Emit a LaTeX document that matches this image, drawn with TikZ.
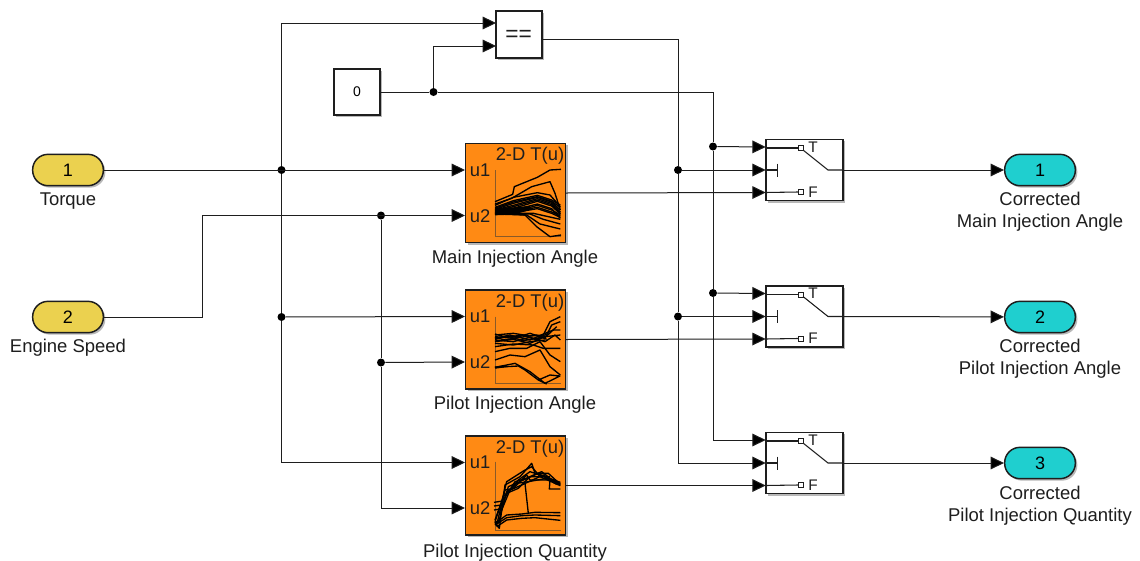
\documentclass[tikz,border=0pt]{standalone}
\usepackage{fontspec}
\setmainfont{Liberation Sans}
\usetikzlibrary{arrows.meta,shadows,calc}
\definecolor{inyellow}{HTML}{EBD14F}
\definecolor{outcyan}{HTML}{1FCFCF}
\definecolor{lutorange}{HTML}{FF8A14}
\definecolor{ink}{HTML}{1E1E1E}
\definecolor{axisbrown}{HTML}{8A5A28}
\tikzset{
  softshadow/.style={drop shadow={shadow xshift=1.5pt,shadow yshift=-1.5pt,opacity=.28,fill=black}},
  block/.style={draw=ink,line width=1.1pt,fill=white,inner sep=0pt,softshadow},
  inport/.style={block,fill=inyellow,minimum width=53pt,minimum height=23.5pt,rounded corners=11.5pt,font=\fontsize{13.5pt}{15pt}\selectfont},
  outport/.style={block,fill=outcyan,minimum width=53pt,minimum height=23.5pt,rounded corners=11.5pt,font=\fontsize{13.5pt}{15pt}\selectfont},
  lut/.style={block,fill=lutorange,minimum width=75pt,minimum height=74.5pt},
  swbox/.style={block,minimum width=57.5pt,minimum height=46pt},
  cmpbox/.style={block,minimum width=34.5pt,minimum height=35pt},
  lab/.style={text=ink,align=center,inner sep=0pt,font=\fontsize{13.85pt}{16.4pt}\selectfont},
  lutlab/.style={text=ink,inner sep=0pt,font=\fontsize{13.8pt}{15pt}\selectfont},
  swlab/.style={text=ink,inner sep=0pt,font=\fontsize{11.5pt}{13pt}\selectfont},
  wire/.style={draw=ink,line width=.75pt},
  sig/.style={wire,-{Triangle[length=10pt,width=9.5pt,fill=black]}},
  dotn/.style={circle,fill=black,inner sep=0pt,minimum size=6pt},
  curve/.style={draw=black,line width=1pt,line join=round},
  axisl/.style={draw=axisbrown,line width=.6pt},
  inner/.style={draw=ink,line width=.8pt}
}
\begin{document}
\begin{tikzpicture}[x=0.75pt,y=-0.75pt]
\useasboundingbox (0,0) rectangle (1140,561);
\fill[white] (0,0) rectangle (1140,561);

% ports
\node[inport] (in1) at (68,170) {1};
\node[inport] (in2) at (68,317) {2};
\node[outport] (out1) at (1040,170) {1};
\node[outport] (out2) at (1040,317) {2};
\node[outport] (out3) at (1040,463) {3};
\node[lab] (l1) at (68,201) {Torque};
\node[lab] (l2) at (68,348) {Engine Speed};
\node[lab] (l3) at (1040,212) {Corrected\\Main Injection Angle};
\node[lab] (l4) at (1040,359) {Corrected\\Pilot Injection Angle};
\node[lab] (l5) at (1040,505.5) {Corrected\\Pilot Injection Quantity};

% constant and compare
\node[block,minimum width=34.5pt,minimum height=34.5pt,font=\fontsize{10.5pt}{12pt}\selectfont] (zero) at (357,92) {0};
\node[cmpbox] (cmp) at (519,34.5) {};
\node[inner sep=0pt,text=ink,font=\fontsize{17pt}{18pt}\selectfont] (cmpt) at (518.5,35.5) {==};

% lookup tables
\node[lut] (lut1) at (515.5,193) {};
\node[lut] (lut2) at (515.5,339.5) {};
\node[lut] (lut3) at (515.5,485.5) {};
\node[lab] (l6) at (515,259) {Main Injection Angle};
\node[lab] (l7) at (515,405) {Pilot Injection Angle};
\node[lab] (l8) at (515,553) {Pilot Injection Quantity};

\foreach \n/\cy in {1/193,2/339.5,3/485.5}{
  \node[lutlab] (ta\n) at (530,\cy-37) {2-D T(u)};
  \node[lutlab] (ua\n) at (480,\cy-23) {u1};
  \node[lutlab] (ub\n) at (480,\cy+23) {u2};
}

% LUT 1 plot
\begin{scope}[shift={(450,130)},x=0.25pt,y=-0.25pt]
\draw[axisl] (135,120) -- (135,320) -- (332,320);
\draw[curve] (135,215) -- (188,193) -- (193,170) -- (262,142) -- (300,120) -- (333,118);
\draw[curve] (135,222) -- (185,205) -- (245,170) -- (300,155) -- (315,190) -- (331,240);
\draw[curve] (135,226) -- (190,202) -- (262,188) -- (300,195) -- (331,230);
\foreach \a/\b/\c/\d in {232/212/196/225,235/216/200/232,238/220/202/240,240/226/206/246,242/230/210/250,244/235/214/252,246/240/222/265,248/244/232/258,250/246/226/255,250/248/236/262}{
  \draw[curve] (135,\a) -- (190,\b) -- (262,\c) -- (305,\c+14) -- (331,\d);
}
\fill[black] (135,238) -- (190,232) -- (240,228) -- (240,240) -- (190,254) -- (135,256) -- cycle;
\draw[curve] (135,252) -- (225,255) -- (260,290) -- (300,320) -- (333,315);
\draw[curve] (135,250) -- (230,255) -- (270,282) -- (331,297);
\draw[curve] (135,250) -- (240,252) -- (280,268) -- (331,282);
\draw[curve] (135,250) -- (250,250) -- (331,268);
\end{scope}

% LUT 2 plot
\begin{scope}[shift={(450,280)},x=0.25pt,y=-0.25pt]
\draw[axisl] (135,110) -- (135,310) -- (332,310);
\draw[curve] (135,165) -- (190,160) -- (240,168) -- (280,165) -- (300,125) -- (331,110);
\draw[curve] (135,170) -- (190,175) -- (240,160) -- (285,175) -- (305,135) -- (331,125);
\draw[curve] (135,175) -- (180,165) -- (240,180) -- (285,160) -- (310,150) -- (331,150);
\draw[curve] (135,180) -- (190,185) -- (240,172) -- (285,185) -- (315,165) -- (331,180);
\draw[curve] (135,185) -- (190,178) -- (240,190) -- (285,170) -- (331,165);
\draw[curve] (135,190) -- (190,195) -- (240,185) -- (285,180);
\draw[curve] (135,162) -- (170,172) -- (215,165) -- (255,178) -- (290,168) -- (320,140);
\draw[curve] (135,172) -- (165,180) -- (210,172) -- (260,165) -- (290,178);
\draw[curve] (135,178) -- (170,168) -- (220,182) -- (265,174) -- (295,160);
\draw[curve] (135,200) -- (190,192) -- (250,195) -- (280,205) -- (331,205);
\draw[curve] (135,215) -- (180,205) -- (230,205) -- (270,185) -- (300,225) -- (331,245);
\draw[curve] (135,240) -- (180,225) -- (225,230) -- (270,210) -- (300,260) -- (331,285);
\draw[curve] (135,262) -- (195,250) -- (240,275) -- (285,310) -- (330,288) -- (300,285) -- (265,300);
\draw[curve] (135,262) -- (205,258) -- (225,270) -- (265,300) -- (290,312);
\draw[curve,line width=1.6pt] (135,263) -- (170,258);
\end{scope}

% LUT 3 plot
\begin{scope}[shift={(450,425)},x=0.25pt,y=-0.25pt]
\draw[axisl] (135,110) -- (135,315) -- (332,315);
\draw[curve] (135,295) -- (148,310) -- (165,180) -- (210,155) -- (245,115) -- (255,145) -- (295,145) -- (331,178);
\draw[curve] (135,290) -- (155,230) -- (170,170) -- (225,135) -- (245,125) -- (270,155) -- (331,182);
\draw[curve] (140,300) -- (165,195) -- (190,190) -- (230,150) -- (240,165) -- (300,165) -- (298,192) -- (331,192);
\draw[curve] (135,285) -- (160,215) -- (200,175) -- (235,170) -- (290,160) -- (331,175);
\draw[curve] (145,295) -- (170,200) -- (215,180) -- (280,150) -- (331,180);
\draw[curve] (150,270) -- (175,185) -- (220,165) -- (265,145) -- (320,178);
\draw[curve] (155,255) -- (180,195) -- (205,165) -- (240,140) -- (285,155) -- (331,172);
\draw[curve] (160,225) -- (195,170) -- (228,160) -- (275,140) -- (310,168);
\draw[curve] (170,205) -- (205,190) -- (240,155) -- (300,155);
\draw[curve] (132,232) -- (158,228);
\draw[curve] (132,243) -- (155,240);
\draw[curve] (132,255) -- (152,252);
\draw[curve] (225,175) -- (235,265);
\draw[curve] (135,295) -- (170,270) -- (215,267) -- (255,262) -- (331,263);
\draw[curve] (135,300) -- (170,278) -- (215,272) -- (255,270) -- (331,272);
\draw[curve] (140,305) -- (170,285) -- (215,280) -- (255,278) -- (331,286);
\draw[curve,line width=1.6pt] (135,295) -- (150,285);
\end{scope}

% switches
\foreach \n/\cy in {1/170,2/316.5,3/463}{
  \node[swbox] (sw\n) at (804.5,\cy) {};
  \coordinate (swT\n) at (765.7,\cy-23);
  \coordinate (swC\n) at (765.7,\cy);
  \coordinate (swF\n) at (765.7,\cy+22.5);
  \coordinate (swPT\n) at (798,\cy-22);
  \coordinate (swPF\n) at (798,\cy+22);
  \coordinate (swB\n) at (777.5,\cy);
  \coordinate (swK\n) at (828,\cy);
  \draw[inner] (swT\n) ++(0,1) -- (swPT\n);
  \draw[inner] (swF\n) -- (swPF\n);
  \draw[inner] (swC\n) -- (swB\n);
  \draw[inner] (777.5,\cy-6.5) -- (777.5,\cy+6.5);
  \draw[draw=ink,line width=.7pt,fill=white] ($(swPT\n)+(0,-2.5)$) rectangle ++(5,5);
  \draw[draw=ink,line width=.7pt,fill=white] ($(swPF\n)+(0,-2.5)$) rectangle ++(5,5);
  \draw[inner] (803,\cy-20) -- (swK\n) -- (sw\n.east);
  \node[swlab] (st\n) at (813,\cy-23) {T};
  \node[swlab] (sf\n) at (813,\cy+22) {F};
}

% input coordinates of the blocks
\foreach \n/\cy in {1/193,2/339.5,3/485.5}{
  \coordinate (lu1\n) at (465,\cy-23);
  \coordinate (lu2\n) at (465,\cy+22.5);
  \coordinate (lo\n) at (566,\cy);
}
\coordinate (cmpA) at (496,23);
\coordinate (cmpB) at (496,46);
\coordinate (cmpO) at (542,39);

% junctions
\node[dotn] (j1) at (281.5,170) {};
\node[dotn] (j2) at (281.5,317) {};
\node[dotn] (j3) at (381,215.5) {};
\node[dotn] (j4) at (381,362.5) {};
\node[dotn] (j5) at (433.5,92) {};
\node[dotn] (j6) at (713,146.5) {};
\node[dotn] (j7) at (713,293) {};
\node[dotn] (j8) at (678,170) {};
\node[dotn] (j9) at (678,316.5) {};

% connectors
\draw[sig] (in1.east) -- (lu11);
\draw[sig] (j1) |- (cmpA);
\draw[wire] (j1) -- (j2);
\draw[sig] (j2) -- (lu12);
\draw[sig] (j2) |- (lu13);

\draw[sig] (in2.east) -- ++(98,0) |- (lu21);
\draw[wire] (j3) -- (j4);
\draw[sig] (j4) -- (lu22);
\draw[sig] (j4) |- (lu23);

\draw[wire] (zero.east) -- (j5);
\draw[sig] (j5) |- (cmpB);
\draw[wire] (j5) -| (j6);
\draw[sig] (j6) -- (swT1);
\draw[wire] (j6) -- (j7);
\draw[sig] (j7) -- (swT2);
\draw[sig] (j7) |- (swT3);

\draw[wire] (cmpO) -| (j8);
\draw[sig] (j8) -- (swC1);
\draw[wire] (j8) -- (j9);
\draw[sig] (j9) -- (swC2);
\draw[sig] (j9) |- (swC3);

\draw[sig] (lo1) -- (swF1);
\draw[sig] (lo2) -- (swF2);
\draw[sig] (lo3) -- (swF3);

\draw[sig] (sw1.east) -- (out1);
\draw[sig] (sw2.east) -- (out2);
\draw[sig] (sw3.east) -- (out3);
\end{tikzpicture}
\end{document}
